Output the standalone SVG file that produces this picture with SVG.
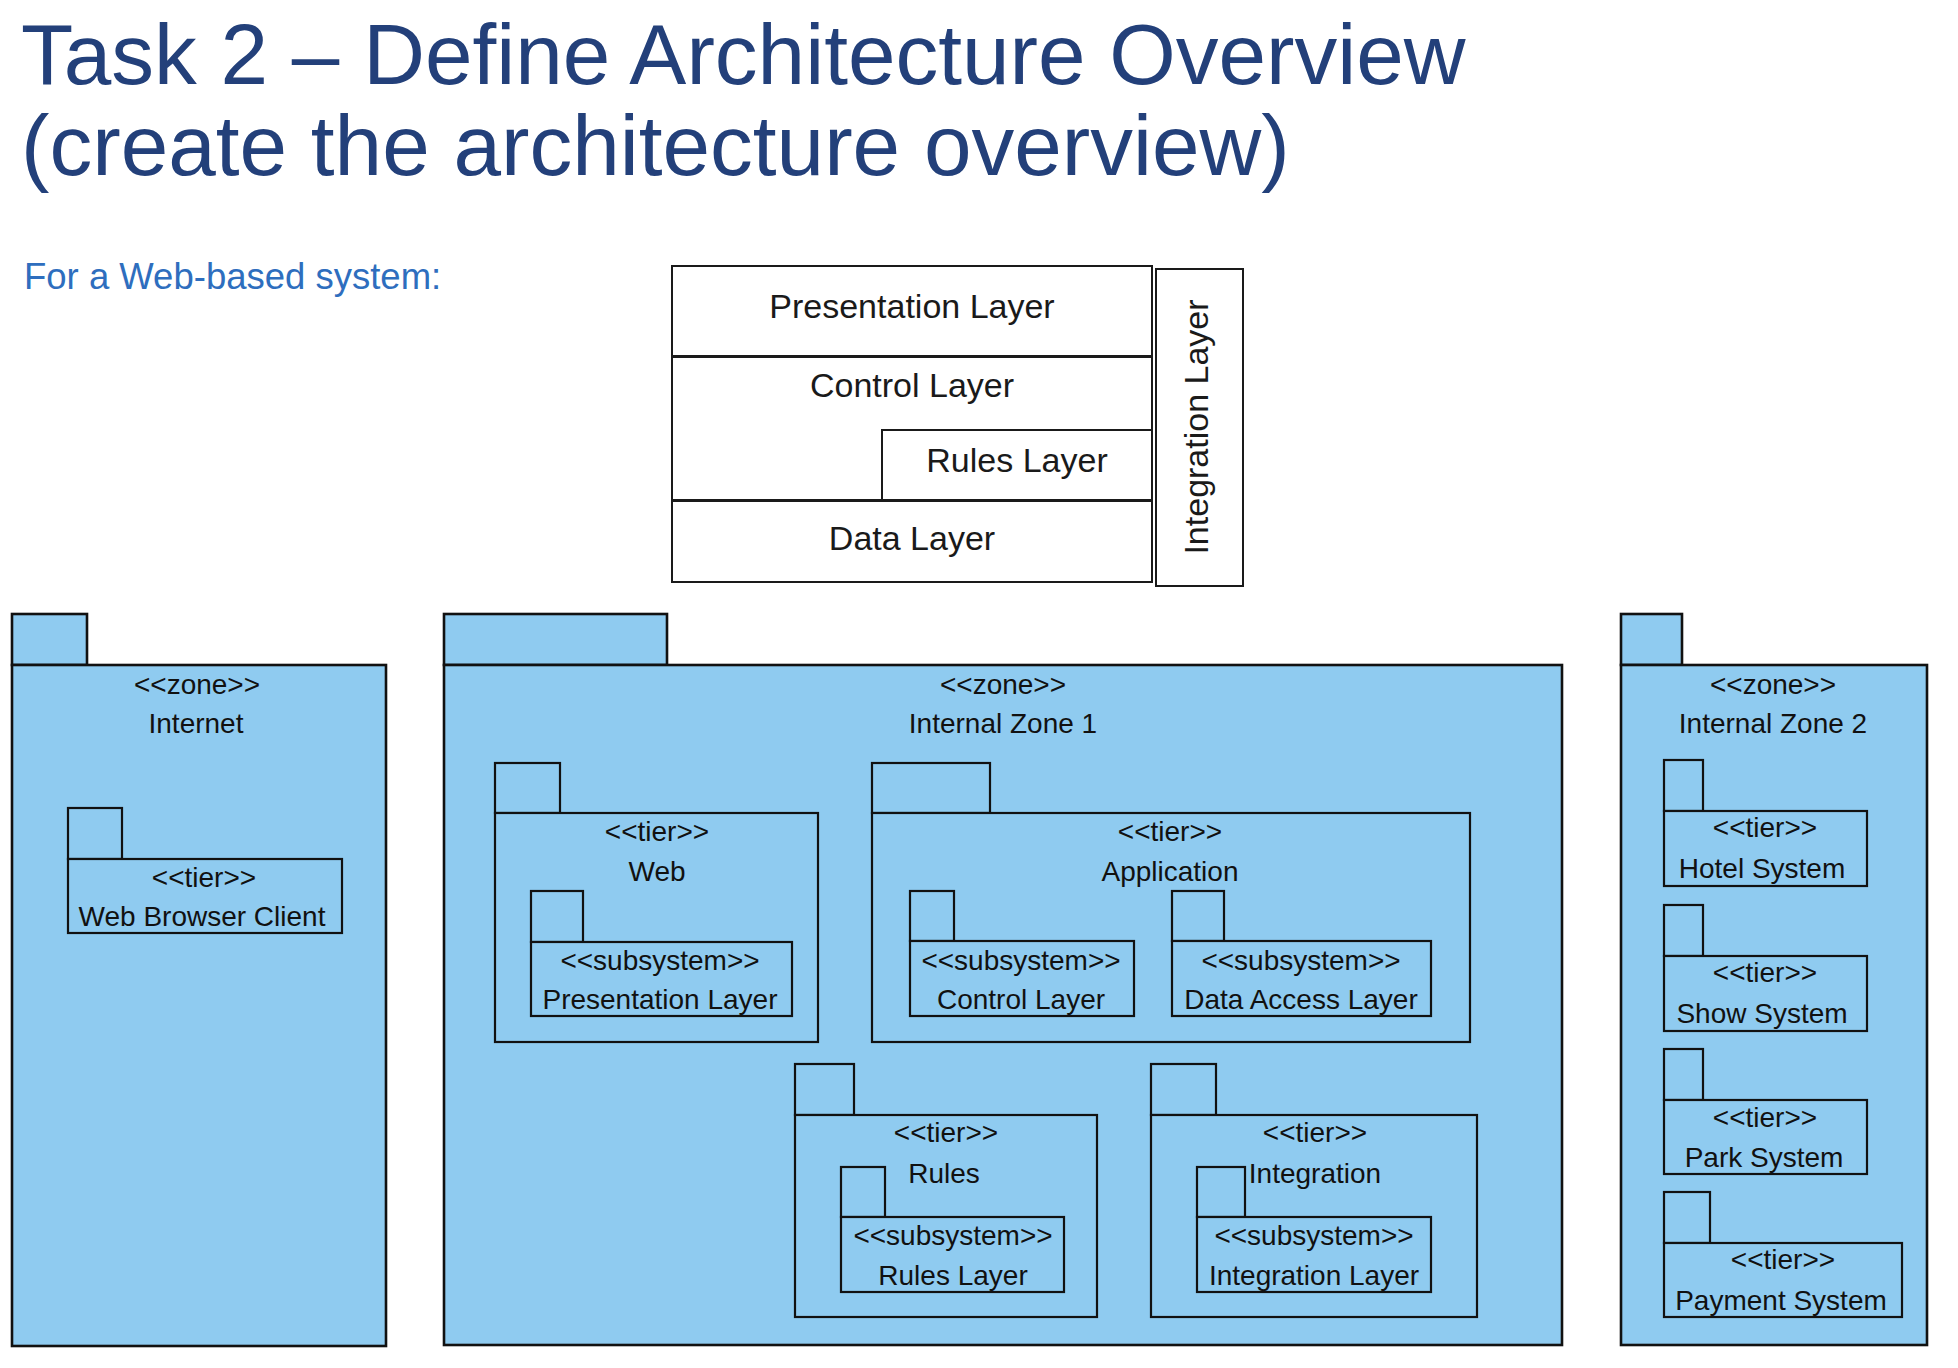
<svg xmlns="http://www.w3.org/2000/svg" width="1958" height="1368" viewBox="0 0 1958 1368">
<style>
.title{font-family:"Liberation Sans",Arial,sans-serif;font-size:85.5px;fill:#23407A}
.sub{font-family:"Liberation Sans",Arial,sans-serif;font-size:36.5px;fill:#2E6EBE}
.lay{fill:#fff;stroke:#1a1a1a;stroke-width:2}
.lt{font-family:"Liberation Sans",Arial,sans-serif;font-size:34px;fill:#1a1a1a;text-anchor:middle}
.pk{fill:#8FCBF0;stroke:#111;stroke-width:2.2}
.zn{fill:#8FCBF0;stroke:#111;stroke-width:2.6}
.pt{font-family:"Liberation Sans",Arial,sans-serif;font-size:28px;fill:#111;text-anchor:middle}
</style>
<rect width="1958" height="1368" fill="#fff"/>
<text class="title" x="21" y="84">Task 2 – Define Architecture Overview</text>
<text class="title" x="21" y="175">(create the architecture overview)</text>
<text class="sub" x="24" y="289">For a Web-based system:</text>

<g id="layers">
  <rect class="lay" x="672" y="266" width="480" height="90"/>
  <path class="lay" d="M672 357 H1152 V430 H882 V500 H672 Z"/>
  <rect class="lay" x="882" y="430" width="270" height="70"/>
  <rect class="lay" x="672" y="501" width="480" height="81"/>
  <line x1="672" y1="356.5" x2="1152" y2="356.5" stroke="#1a1a1a" stroke-width="3"/>
  <line x1="672" y1="500.5" x2="882" y2="500.5" stroke="#1a1a1a" stroke-width="3"/>
  <rect class="lay" x="1156" y="269" width="87" height="317"/>
  <text class="lt" x="912" y="318">Presentation Layer</text>
  <text class="lt" x="912" y="397">Control Layer</text>
  <text class="lt" x="1017" y="472">Rules Layer</text>
  <text class="lt" x="912" y="550">Data Layer</text>
  <text class="lt" transform="translate(1208,427) rotate(-90)" x="0" y="0">Integration Layer</text>
</g>

<g id="zone-internet">
  <rect class="zn" x="12" y="614" width="75" height="51"/>
  <rect class="zn" x="12" y="665" width="374" height="681"/>
  <text class="pt" x="197" y="694">&lt;&lt;zone&gt;&gt;</text>
  <text class="pt" x="196" y="733">Internet</text>
</g>
<g id="tier-webbrowser">
  <rect class="pk" x="68" y="808" width="54" height="51"/>
  <rect class="pk" x="68" y="859" width="274" height="74"/>
  <text class="pt" x="204" y="887">&lt;&lt;tier&gt;&gt;</text>
  <text class="pt" x="202" y="926">Web Browser Client</text>
</g>

<g id="zone-internal1">
  <rect class="zn" x="444" y="614" width="223" height="51"/>
  <rect class="zn" x="444" y="665" width="1118" height="680"/>
  <text class="pt" x="1003" y="694">&lt;&lt;zone&gt;&gt;</text>
  <text class="pt" x="1003" y="733">Internal Zone 1</text>
</g>
<g id="tier-web">
  <rect class="pk" x="495" y="763" width="65" height="50"/>
  <rect class="pk" x="495" y="813" width="323" height="229"/>
  <text class="pt" x="657" y="841">&lt;&lt;tier&gt;&gt;</text>
  <text class="pt" x="657" y="881">Web</text>
</g>
<g id="sub-presentation">
  <rect class="pk" x="531" y="891" width="52" height="51"/>
  <rect class="pk" x="531" y="942" width="261" height="74"/>
  <text class="pt" x="660" y="970">&lt;&lt;subsystem&gt;&gt;</text>
  <text class="pt" x="660" y="1009">Presentation Layer</text>
</g>
<g id="tier-application">
  <rect class="pk" x="872" y="763" width="118" height="50"/>
  <rect class="pk" x="872" y="813" width="598" height="229"/>
  <text class="pt" x="1170" y="841">&lt;&lt;tier&gt;&gt;</text>
  <text class="pt" x="1170" y="881">Application</text>
</g>
<g id="sub-control">
  <rect class="pk" x="910" y="891" width="44" height="50"/>
  <rect class="pk" x="910" y="941" width="224" height="75"/>
  <text class="pt" x="1021" y="970">&lt;&lt;subsystem&gt;&gt;</text>
  <text class="pt" x="1021" y="1009">Control Layer</text>
</g>
<g id="sub-dataaccess">
  <rect class="pk" x="1172" y="891" width="52" height="50"/>
  <rect class="pk" x="1172" y="941" width="259" height="75"/>
  <text class="pt" x="1301" y="970">&lt;&lt;subsystem&gt;&gt;</text>
  <text class="pt" x="1301" y="1009">Data Access Layer</text>
</g>
<g id="tier-rules">
  <rect class="pk" x="795" y="1064" width="59" height="51"/>
  <rect class="pk" x="795" y="1115" width="302" height="202"/>
  <text class="pt" x="946" y="1142">&lt;&lt;tier&gt;&gt;</text>
  <text class="pt" x="944" y="1183">Rules</text>
</g>
<g id="sub-rules">
  <rect class="pk" x="841" y="1167" width="44" height="50"/>
  <rect class="pk" x="841" y="1217" width="223" height="75"/>
  <text class="pt" x="953" y="1245">&lt;&lt;subsystem&gt;&gt;</text>
  <text class="pt" x="953" y="1285">Rules Layer</text>
</g>
<g id="tier-integration">
  <rect class="pk" x="1151" y="1064" width="65" height="51"/>
  <rect class="pk" x="1151" y="1115" width="326" height="202"/>
  <text class="pt" x="1315" y="1142">&lt;&lt;tier&gt;&gt;</text>
  <text class="pt" x="1315" y="1183">Integration</text>
</g>
<g id="sub-integration">
  <rect class="pk" x="1197" y="1167" width="48" height="50"/>
  <rect class="pk" x="1197" y="1217" width="234" height="75"/>
  <text class="pt" x="1314" y="1245">&lt;&lt;subsystem&gt;&gt;</text>
  <text class="pt" x="1314" y="1285">Integration Layer</text>
</g>

<g id="zone-internal2">
  <rect class="zn" x="1621" y="614" width="61" height="51"/>
  <rect class="zn" x="1621" y="665" width="306" height="680"/>
  <text class="pt" x="1773" y="694">&lt;&lt;zone&gt;&gt;</text>
  <text class="pt" x="1773" y="733">Internal Zone 2</text>
</g>
<g id="tier-hotel">
  <rect class="pk" x="1664" y="760" width="39" height="51"/>
  <rect class="pk" x="1664" y="811" width="203" height="75"/>
  <text class="pt" x="1765" y="837">&lt;&lt;tier&gt;&gt;</text>
  <text class="pt" x="1762" y="878">Hotel System</text>
</g>
<g id="tier-show">
  <rect class="pk" x="1664" y="905" width="39" height="51"/>
  <rect class="pk" x="1664" y="956" width="203" height="75"/>
  <text class="pt" x="1765" y="982">&lt;&lt;tier&gt;&gt;</text>
  <text class="pt" x="1762" y="1023">Show System</text>
</g>
<g id="tier-park">
  <rect class="pk" x="1664" y="1049" width="39" height="51"/>
  <rect class="pk" x="1664" y="1100" width="203" height="74"/>
  <text class="pt" x="1765" y="1127">&lt;&lt;tier&gt;&gt;</text>
  <text class="pt" x="1764" y="1167">Park System</text>
</g>
<g id="tier-payment">
  <rect class="pk" x="1664" y="1192" width="46" height="51"/>
  <rect class="pk" x="1664" y="1243" width="238" height="74"/>
  <text class="pt" x="1783" y="1269">&lt;&lt;tier&gt;&gt;</text>
  <text class="pt" x="1781" y="1310">Payment System</text>
</g>
<g id="connectors"></g>
</svg>
